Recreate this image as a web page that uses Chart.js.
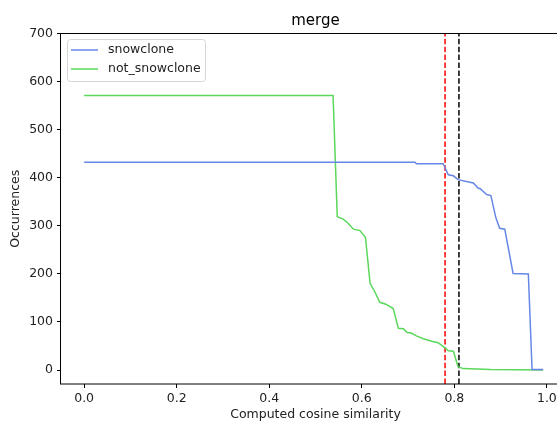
<!DOCTYPE html>
<html>
<head>
<meta charset="utf-8">
<script src="https://cdn.jsdelivr.net/npm/chart.js@4"></script>
<style>
  body { margin: 0; overflow: hidden; background: #fff; }
  #wrap { width: 580px; height: 423px; }
</style>
</head>
<body>
<div id="wrap"><canvas id="mergeChart"></canvas></div>
<script>
// values
const snowX = [0, 0.715, 0.718, 0.776, 0.787, 0.798, 0.808, 0.826, 0.841, 0.852, 0.856, 0.870, 0.879, 0.890, 0.898, 0.909, 0.927, 0.960, 0.968, 0.992];
const snowY = [432, 432, 429, 429, 406, 404, 396, 392, 389, 378, 377, 365, 363, 316, 295, 293, 201, 200, 1, 1];
const notX = [0, 0.538, 0.547, 0.560, 0.571, 0.582, 0.596, 0.608, 0.618, 0.626, 0.639, 0.652, 0.668, 0.679, 0.690, 0.698, 0.707, 0.718, 0.733, 0.751, 0.765, 0.780, 0.787, 0.798, 0.808, 0.819, 0.878, 0.992];
const notY = [571, 571, 319, 314, 305, 293, 290, 276, 180, 167, 141, 137, 128, 87, 86, 78, 77, 71, 65, 60, 57, 46, 40, 39, 7, 3, 1, 0];
const redLineX = 0.78;
const blackLineX = 0.81;
const xTicks = [0, 0.2, 0.4, 0.6, 0.8, 1.0];
const yTicks = [0, 100, 200, 300, 400, 500, 600, 700];
const xRange = [-0.05, 1.05];
const yRange = [-29, 700];
const chartTitle = 'merge';

const FONT = '"DejaVu Sans", sans-serif';
const FS = 12.5;
const blue = '#6787e7';
const green = '#5bd75b';

function pts(xs, ys) {
  return xs.map((x, i) => ({ x: x, y: ys[i] }));
}

const frameAndLegend = {
  id: 'frameAndLegend',
  afterDraw(chart) {
    const ctx = chart.ctx;
    const a = chart.chartArea;
    ctx.save();
    ctx.strokeStyle = '#000';
    ctx.lineWidth = 1;
    ctx.strokeRect(Math.round(a.left) - 0.5, Math.round(a.top) - 0.5, a.right - a.left, a.bottom - a.top);

    // title, centred over the axes like matplotlib does
    ctx.fillStyle = '#000';
    ctx.font = '15px ' + FONT;
    ctx.textAlign = 'center';
    ctx.textBaseline = 'alphabetic';
    ctx.fillText(chartTitle, (a.left + a.right) / 2, 25);

    // legend box
    const bx = 67.5, by = 39.5, bw = 138, bh = 42, r = 3;
    ctx.beginPath();
    ctx.moveTo(bx + r, by);
    ctx.arcTo(bx + bw, by, bx + bw, by + bh, r);
    ctx.arcTo(bx + bw, by + bh, bx, by + bh, r);
    ctx.arcTo(bx, by + bh, bx, by, r);
    ctx.arcTo(bx, by, bx + bw, by, r);
    ctx.closePath();
    ctx.fillStyle = 'rgba(255,255,255,0.8)';
    ctx.fill();
    ctx.strokeStyle = '#d6d6d6';
    ctx.stroke();

    ctx.font = FS + 'px ' + FONT;
    ctx.textAlign = 'left';
    ctx.textBaseline = 'middle';
    const items = chart.data.datasets.filter(d => d.inLegend);
    items.forEach((d, i) => {
      const y = 50 + i * 19;
      ctx.strokeStyle = d.borderColor;
      ctx.lineWidth = 1.5;
      ctx.beginPath();
      ctx.moveTo(71, y);
      ctx.lineTo(98, y);
      ctx.stroke();
      ctx.fillStyle = '#222';
      ctx.fillText(d.label, 108, y);
    });
    ctx.restore();
  }
};

new Chart(document.getElementById('mergeChart'), {
  type: 'line',
  data: {
    datasets: [
      { label: 'snowclone', data: pts(snowX, snowY), borderColor: blue, borderWidth: 1.5, inLegend: true },
      { label: 'not_snowclone', data: pts(notX, notY), borderColor: green, borderWidth: 1.5, inLegend: true },
      { label: 'red', data: pts([redLineX, redLineX], yRange), borderColor: '#ff0000', borderWidth: 1.5, borderDash: [5.5, 2.4] },
      { label: 'black', data: pts([blackLineX, blackLineX], yRange), borderColor: '#000000', borderWidth: 1.5, borderDash: [5.5, 2.4] }
    ]
  },
  options: {
    responsive: true,
    maintainAspectRatio: false,
    animation: false,
    layout: { padding: { left: 0, right: 10, top: 33.5, bottom: 0 } },
    elements: { point: { radius: 0 }, line: { tension: 0 } },
    plugins: {
      legend: { display: false },
      tooltip: { enabled: false },
      title: { display: false }
    },
    scales: {
      x: {
        type: 'linear',
        min: xRange[0],
        max: xRange[1],
        afterBuildTicks: (s) => { s.ticks = xTicks.map(v => ({ value: v })); },
        afterFit: (s) => { s.height = 39; },
        ticks: {
          color: '#222',
          font: { family: FONT, size: FS },
          padding: 3,
          maxRotation: 0,
          callback: (v) => Number(v).toFixed(1)
        },
        grid: { drawOnChartArea: false, drawTicks: true, tickLength: 4, tickColor: '#000' },
        border: { display: false },
        title: {
          display: true,
          text: 'Computed cosine similarity',
          color: '#222',
          font: { family: FONT, size: FS },
          padding: { top: 0, bottom: 1 }
        }
      },
      y: {
        min: yRange[0],
        max: yRange[1],
        afterBuildTicks: (s) => { s.ticks = yTicks.map(v => ({ value: v })); },
        afterFit: (s) => { s.width = 61; },
        ticks: {
          color: '#222',
          font: { family: FONT, size: FS },
          padding: 4
        },
        grid: { drawOnChartArea: false, drawTicks: true, tickLength: 4, tickColor: '#000' },
        border: { display: false },
        title: {
          display: true,
          text: 'Occurrences',
          color: '#222',
          font: { family: FONT, size: FS },
          padding: { top: 8, bottom: 0 }
        }
      }
    }
  },
  plugins: [frameAndLegend]
});
</script>
</body>
</html>
